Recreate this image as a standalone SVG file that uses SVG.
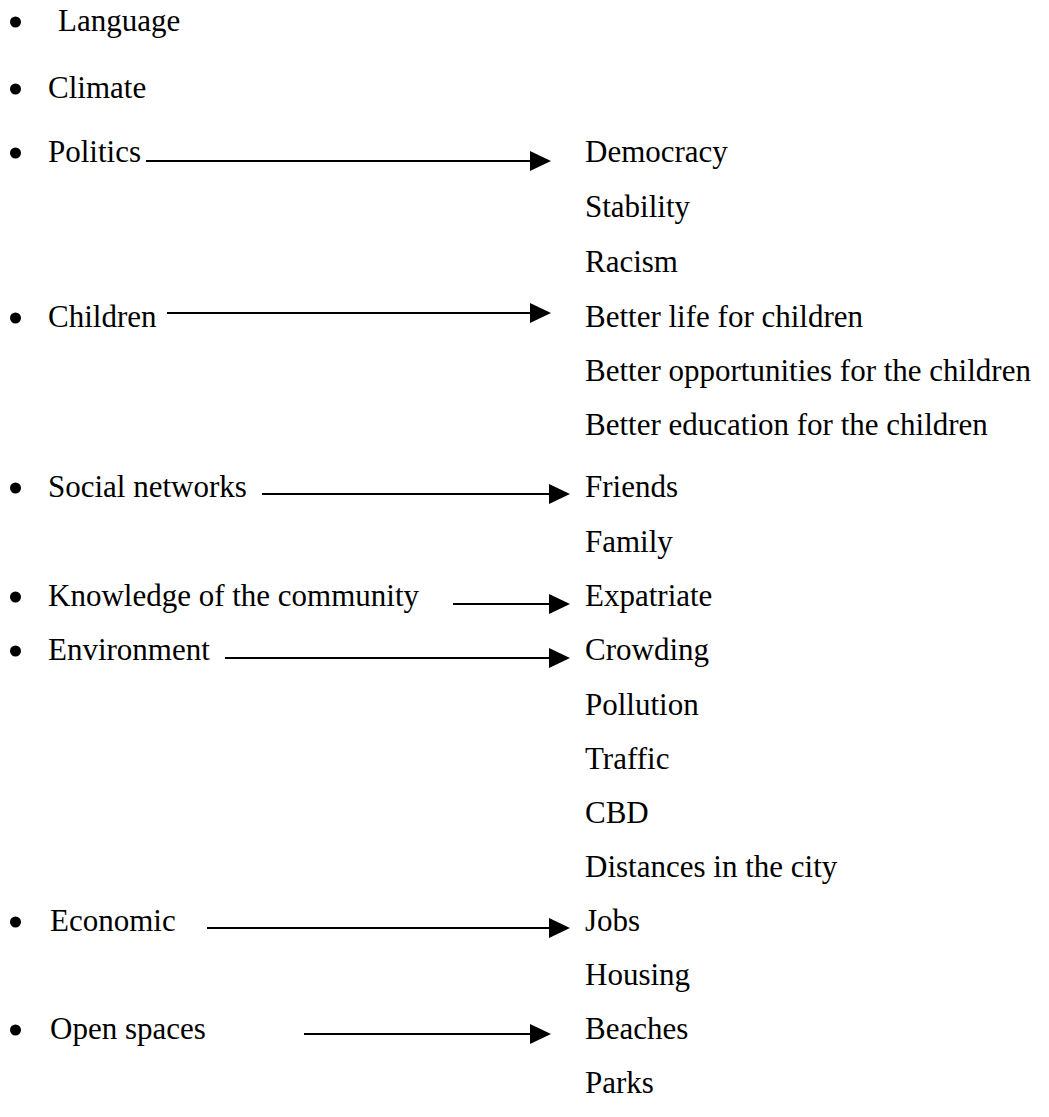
<svg xmlns="http://www.w3.org/2000/svg" width="1049" height="1117" viewBox="0 0 1049 1117">
<style>
text{font-family:"Liberation Serif","Times New Roman",serif;font-size:31px;fill:#000}
.ln{stroke:#000;stroke-width:2;fill:none}
.b{fill:#000}
</style>
<defs>
<marker id="ah" markerUnits="userSpaceOnUse" markerWidth="22" markerHeight="22" refX="0" refY="10" orient="auto">
<path d="M0,0 L21,10 L0,20 Z" fill="#000"/>
</marker>
</defs>
<rect width="1049" height="1117" fill="#fff"/>
<g id="language"><circle class="b" cx="15.5" cy="22" r="5.5"/><text x="58" y="31">Language</text></g>
<g id="climate"><circle class="b" cx="15.5" cy="89" r="5.5"/><text x="48" y="98">Climate</text></g>
<g id="politics"><circle class="b" cx="15.5" cy="153" r="5.5"/><text x="48" y="162">Politics</text>
<text x="585" y="162">Democracy</text><text x="585" y="217">Stability</text><text x="585" y="272">Racism</text></g>
<g id="children"><circle class="b" cx="15.5" cy="318" r="5.5"/><text x="48" y="327">Children</text>
<text x="585" y="327">Better life for children</text><text x="585" y="381">Better opportunities for the children</text><text x="585" y="435">Better education for the children</text></g>
<g id="social"><circle class="b" cx="15.5" cy="488" r="5.5"/><text x="48" y="497">Social networks</text>
<text x="585" y="497">Friends</text><text x="585" y="552">Family</text></g>
<g id="knowledge"><circle class="b" cx="15.5" cy="597" r="5.5"/><text x="48" y="606">Knowledge of the community</text>
<text x="585" y="606">Expatriate</text></g>
<g id="environment"><circle class="b" cx="15.5" cy="651" r="5.5"/><text x="48" y="660">Environment</text>
<text x="585" y="660">Crowding</text><text x="585" y="715">Pollution</text><text x="585" y="769">Traffic</text><text x="585" y="823">CBD</text><text x="585" y="877">Distances in the city</text></g>
<g id="economic"><circle class="b" cx="15.5" cy="922" r="5.5"/><text x="50" y="931">Economic</text>
<text x="585" y="931">Jobs</text><text x="585" y="985">Housing</text></g>
<g id="openspaces"><circle class="b" cx="15.5" cy="1030" r="5.5"/><text x="50" y="1039">Open spaces</text>
<text x="585" y="1039">Beaches</text><text x="585" y="1093">Parks</text></g>
<g id="connectors">
<line class="ln" x1="146" y1="161" x2="530" y2="161" marker-end="url(#ah)"/>
<line class="ln" x1="167" y1="313" x2="530" y2="313" marker-end="url(#ah)"/>
<line class="ln" x1="262" y1="494" x2="549" y2="494" marker-end="url(#ah)"/>
<line class="ln" x1="453" y1="604" x2="549" y2="604" marker-end="url(#ah)"/>
<line class="ln" x1="225" y1="658" x2="549" y2="658" marker-end="url(#ah)"/>
<line class="ln" x1="207" y1="928" x2="549" y2="928" marker-end="url(#ah)"/>
<line class="ln" x1="304" y1="1034" x2="530" y2="1034" marker-end="url(#ah)"/>
</g>
</svg>
